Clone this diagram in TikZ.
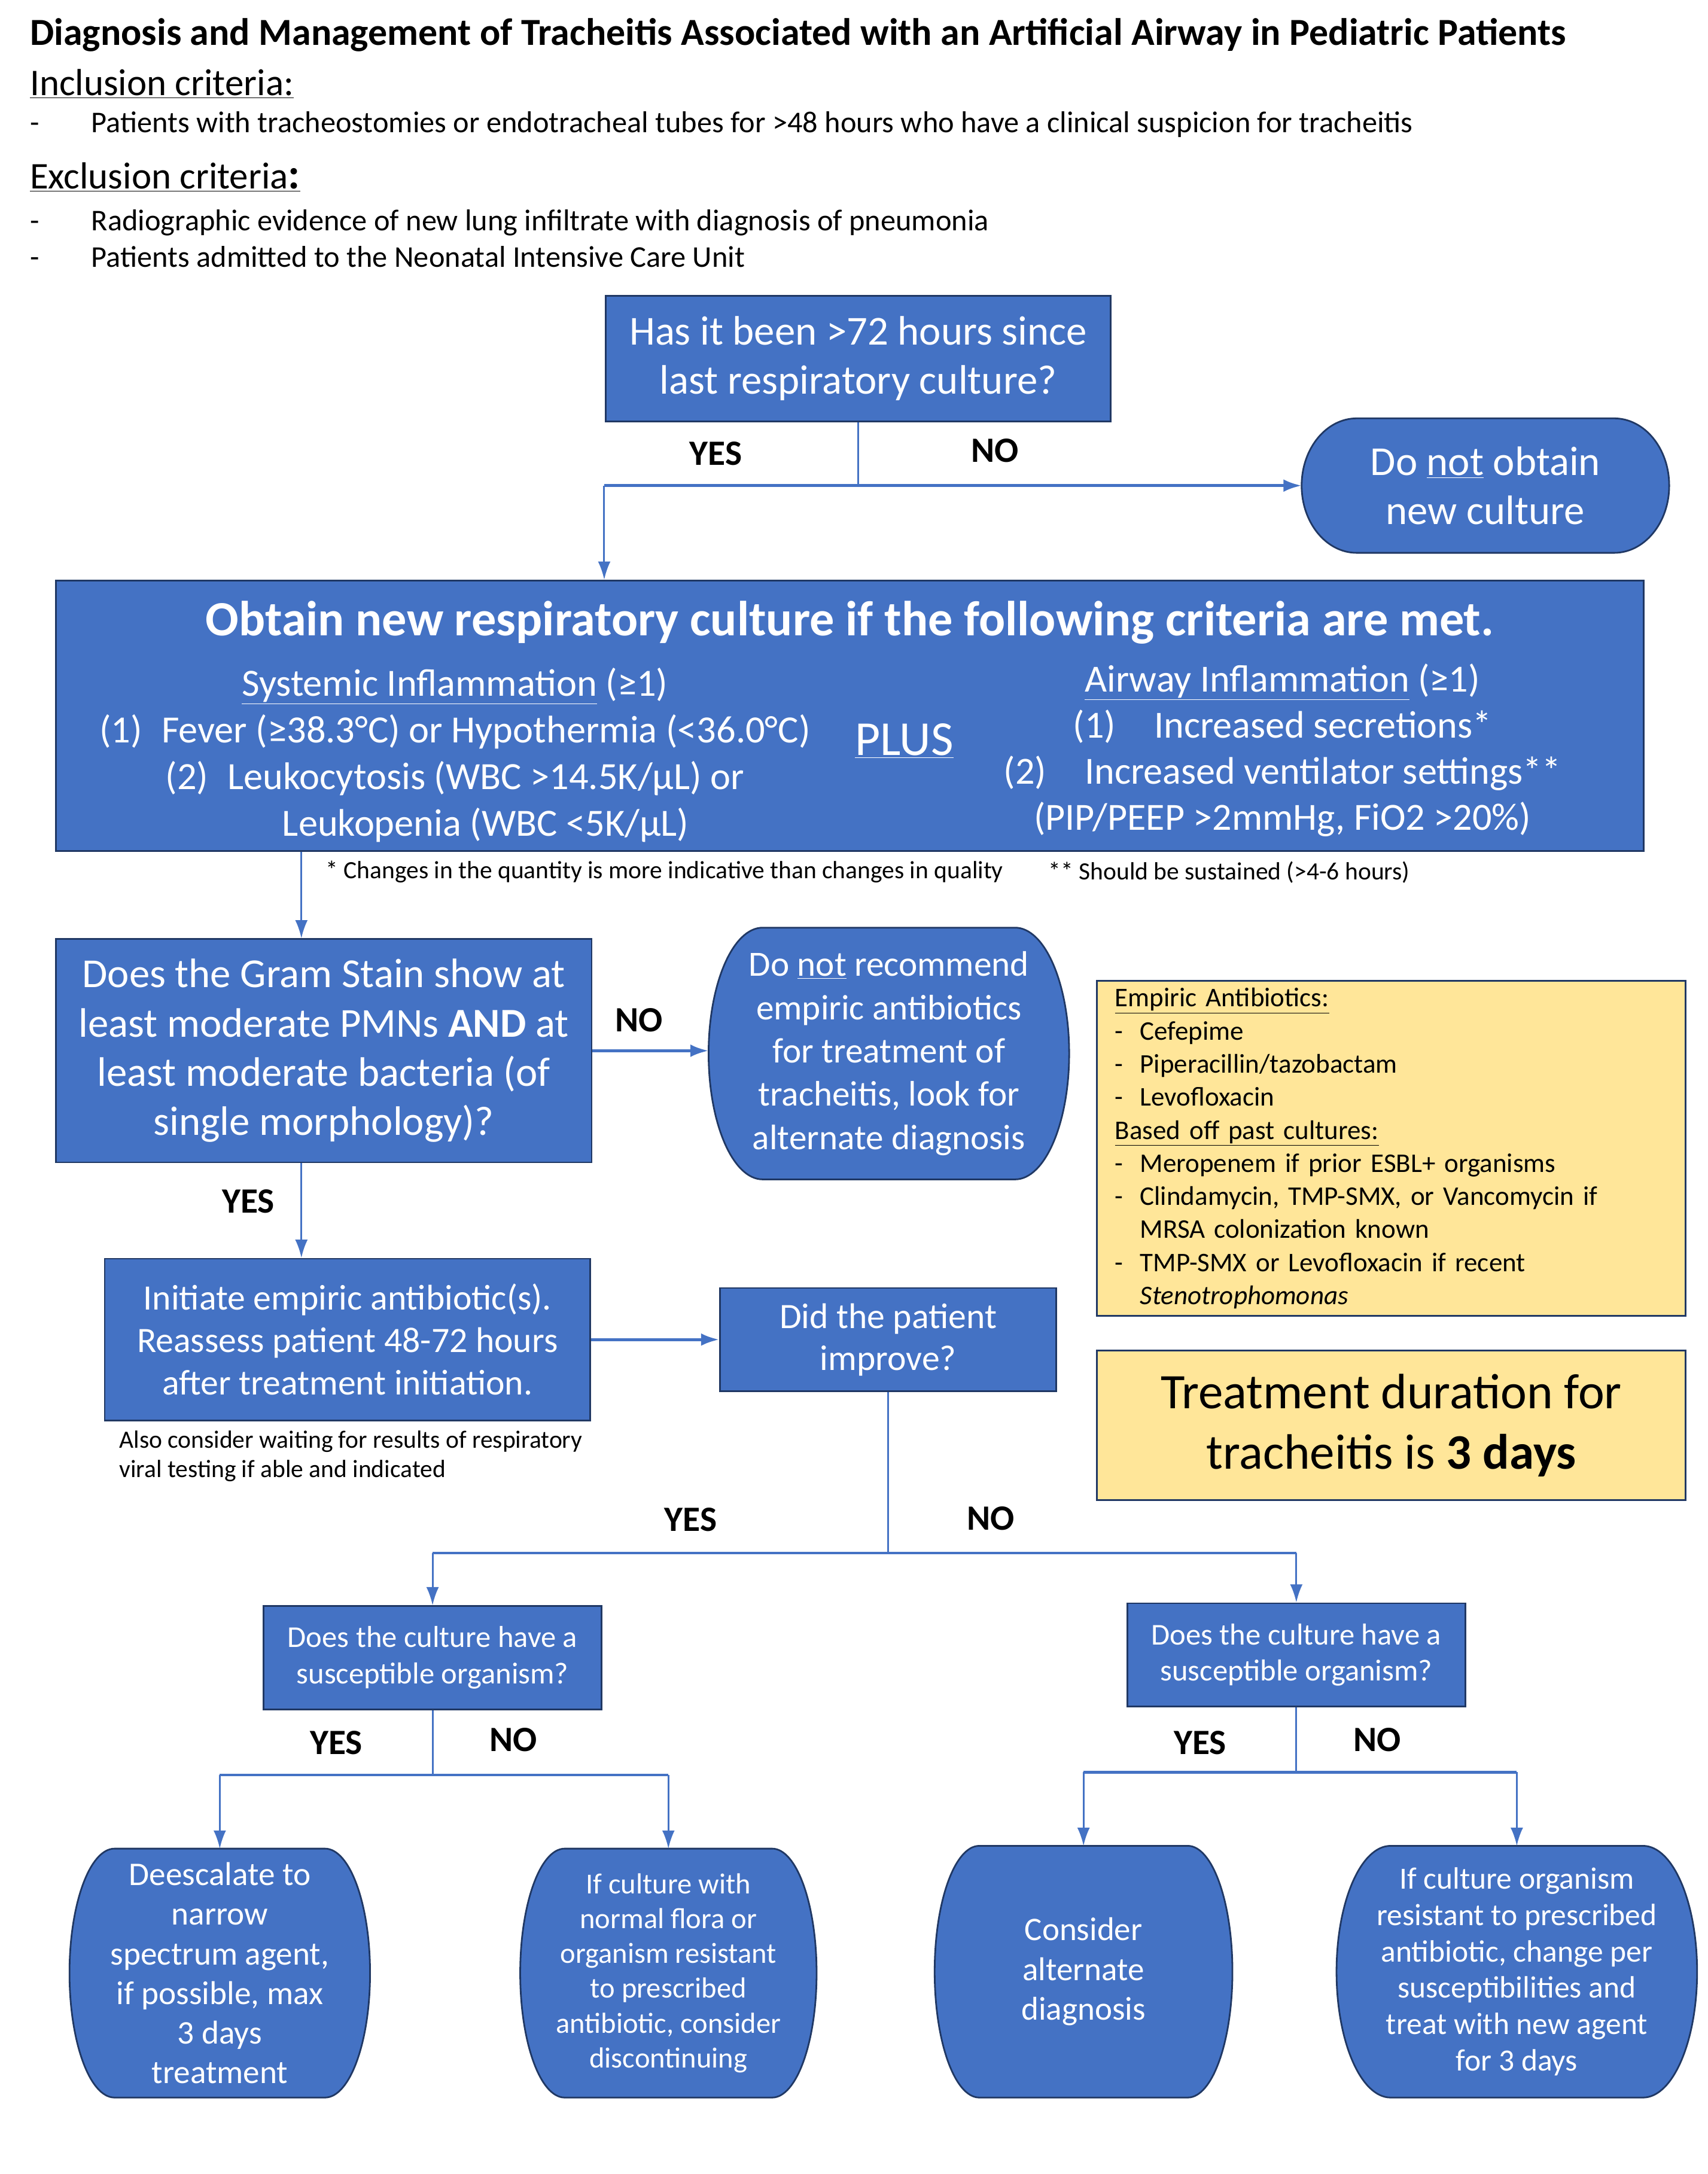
\documentclass[tikz,border=0pt]{standalone}
\usepackage{fontspec}
\setmainfont{Carlito}
\usepackage{xcolor}
\usepackage{tikz}
\usetikzlibrary{arrows.meta,positioning,calc,backgrounds}

\definecolor{office}{HTML}{4472C4}
\definecolor{navy}{HTML}{203864}
\definecolor{gold}{HTML}{FFE699}
\newcommand{\fsz}[2]{\fontsize{#1}{#2}\selectfont}
\newcommand{\dashitem}{\makebox[18pt][l]{-}}

\begin{document}
\begin{tikzpicture}[x=1pt,y=-1pt,>={Latex[length=13pt,width=9pt]}]
        \tikzset{block/.style={draw=navy, line width=1.2pt, fill=office, text=white, align=center, inner sep=0pt},
        term/.style={text=white, align=center, inner sep=0pt},
        termshape/.style={draw=navy, line width=1.2pt, fill=office},
        yblock/.style={draw=navy, line width=1.2pt, fill=gold, text=black, inner sep=0pt},
        lab/.style={font=\bfseries\fsz{25.5}{30}},
        link/.style={draw=office, line width=1.3pt},
        hlink/.style={draw=office, line width=2pt},
        }
        \useasboundingbox (0,0) rectangle (1224,1558);

%% header
        \node [anchor=west, font=\bfseries\fsz{27.4}{32}] (Title) at (18,25) {Diagnosis and Management of Tracheitis Associated with an Artificial Airway in Pediatric Patients};
        \node [anchor=west, font=\fsz{27}{32}] (Incl) at (18,60) {\underline{Inclusion criteria:}};
        \node [anchor=west, font=\fsz{21.6}{26}] (InclList) at (18,89) {\makebox[44pt][l]{-}Patients with tracheostomies or endotracheal tubes for >48 hours who have a clinical suspicion for tracheitis};
        \node [anchor=west, font=\fsz{27}{32}] (Excl) at (18,127) {\underline{Exclusion criteria{\bfseries\fsz{31}{32}:}}};
        \node [anchor=west, align=left, font=\fsz{21.6}{26}] (ExclList) at (18,171) {\makebox[44pt][l]{-}Radiographic evidence of new lung infiltrate with diagnosis of pneumonia\\
                \makebox[44pt][l]{-}Patients admitted to the Neonatal Intensive Care Unit};

%% boxes
        \node [block, minimum width=362pt, minimum height=90pt, font=\fsz{29.5}{35}] (Hours) at (615,257) {Has it been >72 hours since\\last respiratory culture?};
        \node [term, minimum width=263pt, minimum height=96pt, font=\fsz{29.5}{35}] (NoCulture) at (1064.5,348) {Do \underline{not} obtain\\new culture};
        \node [block, minimum width=1138pt, minimum height=194pt] (Criteria) at (609,513) {};
        \node [text=white, font=\bfseries\fsz{35.3}{40}] (CritHead) at (609,446) {Obtain new respiratory culture if the following criteria are met.};
        \node [text=white, align=center, font=\fsz{27.6}{33.5}] (Systemic) at (326,541) {\underline{Systemic Inflammation} (≥1)\\
                (1)\enspace Fever (≥38.3°C) or Hypothermia (<36.0°C)\\
                (2)\enspace Leukocytosis (WBC >14.5K/µL) or\\
                \hspace*{44pt}Leukopenia (WBC <5K/µL)};
        \node [text=white, font=\fsz{35}{38}] (Plus) at (648,531) {\underline{PLUS}};
        \node [text=white, align=center, font=\fsz{27.5}{33}] (Airway) at (919,537.5) {\underline{Airway Inflammation} (≥1)\\
                (1)\quad Increased secretions*\\
                (2)\quad Increased ventilator settings**\\
                (PIP/PEEP >2mmHg, FiO2 >20\%)};
        \node [anchor=west, font=\fsz{17.8}{21}] (NoteA) at (230,625) {* Changes in the quantity is more indicative than changes in quality};
        \node [anchor=west, font=\fsz{17.8}{21}] (NoteB) at (748,625) {** Should be sustained (>4-6 hours)};

        \node [block, minimum width=384pt, minimum height=160pt, font=\fsz{29.5}{35.3}] (Gram) at (232,753) {Does the Gram Stain show at\\least moderate PMNs \textbf{AND} at\\least moderate bacteria (of\\single morphology)?};
        \node [term, minimum width=258pt, minimum height=180pt, font=\fsz{25.4}{31}] (NoAbx) at (637,755) {Do \underline{not} recommend\\empiric antibiotics\\for treatment of\\tracheitis, look for\\alternate diagnosis};
        \node [yblock, minimum width=422pt, minimum height=240pt, inner xsep=13pt, text width=396pt, align=left, font=\fsz{19.3}{23.7}] (EmpAbx) at (997,823) {\underline{Empiric Antibiotics:}\\
                \dashitem Cefepime\\
                \dashitem Piperacillin/tazobactam\\
                \dashitem Levofloxacin\\
                \underline{Based off past cultures:}\\
                \dashitem Meropenem if prior ESBL+ organisms\\
                \dashitem Clindamycin, TMP-SMX, or Vancomycin if\\
                \hspace*{18pt}MRSA colonization known\\
                \dashitem TMP-SMX or Levofloxacin if recent\\
                \hspace*{18pt}\textit{Stenotrophomonas}};
        \node [yblock, minimum width=422pt, minimum height=107pt, align=center, font=\fsz{35.6}{43}] (Duration) at (997,1021.5) {Treatment duration for\\tracheitis is \textbf{3 days}};

        \node [block, minimum width=348pt, minimum height=116pt, font=\fsz{25.6}{30.5}] (Initiate) at (249,960) {Initiate empiric antibiotic(s).\\Reassess patient 48-72 hours\\after treatment initiation.};
        \node [anchor=west, align=left, font=\fsz{17.8}{21}] (ViralNote) at (82,1043.5) {Also consider waiting for results of respiratory\\viral testing if able and indicated};
        \node [block, minimum width=241pt, minimum height=74pt, font=\fsz{25.6}{30}] (Improve) at (636.5,960) {Did the patient\\improve?};

        \node [block, minimum width=242pt, minimum height=74pt, font=\fsz{21.7}{26}] (CultYes) at (310,1188) {Does the culture have a\\susceptible organism?};
        \node [block, minimum width=242pt, minimum height=74pt, font=\fsz{21.7}{26}] (CultNo) at (929,1186) {Does the culture have a\\susceptible organism?};

        \node [term, minimum width=215pt, minimum height=178pt, font=\fsz{23.7}{28.4}] (Deesc) at (157.5,1414) {Deescalate to\\narrow\\spectrum agent,\\if possible, max\\3 days\\treatment};
        \node [term, minimum width=212pt, minimum height=178pt, font=\fsz{20.8}{25}] (Discont) at (479,1414) {If culture with\\normal flora or\\organism resistant\\to prescribed\\antibiotic, consider\\discontinuing};
        \node [term, minimum width=213pt, minimum height=180pt, font=\fsz{23.6}{28.5}] (AltDx) at (776.5,1413) {Consider\\alternate\\diagnosis};
        \node [term, minimum width=258pt, minimum height=180pt, font=\fsz{22.1}{26}] (Change) at (1087,1413) {If culture organism\\resistant to prescribed\\antibiotic, change per\\susceptibilities and\\treat with new agent\\for 3 days};

%% rounded end boxes
        \begin{scope}[on background layer]
        \foreach \nm in {NoCulture,NoAbx,Deesc,Discont,AltDx,Change}
            \path [termshape] let \p1=(\nm.south west), \p2=(\nm.north east),
                \n1={0.15*(\x2-\x1)}, \n2={0.5*(\y2-\y1)} in
                (\x1+\n1,\y2) -- (\x2-\n1,\y2)
                arc [start angle=90, end angle=-90, x radius=\n1, y radius=\n2]
                -- (\x1+\n1,\y1)
                arc [start angle=270, end angle=90, x radius=\n1, y radius=\n2] -- cycle;
        \end{scope}

%% branch points
        \node [coordinate] (split1) at (615,348) {};
        \node [coordinate] (split1l) at (433,348) {};
        \node [coordinate] (split2) at (636.5,1113) {};
        \node [coordinate] (split2l) at (310,1113) {};
        \node [coordinate] (split2r) at (929,1113) {};
        \node [coordinate] (split3) at (310,1272) {};
        \node [coordinate] (split3l) at (157.5,1272) {};
        \node [coordinate] (split3r) at (479,1272) {};
        \node [coordinate] (split4) at (929,1270) {};
        \node [coordinate] (split4l) at (776.5,1270) {};
        \node [coordinate] (split4r) at (1087,1270) {};

%% paths
        \draw [link] (Hours.south) -- (split1);
        \draw [hlink,->] (split1l) -- (NoCulture.west);
        \draw [link,->] (split1l) -- (split1l |- Criteria.north);
        \draw [link,->] ([xshift=-16pt]Criteria.south -| Gram.north) -- ([xshift=-16pt]Gram.north);
        \draw [hlink,->] (Gram.east) -- (Gram.east -| NoAbx.west);
        \draw [link,->] ([xshift=-16pt]Gram.south) -- ([xshift=-16pt]Gram.south |- Initiate.north);
        \draw [hlink,->] (Initiate.east) -- (Initiate.east -| Improve.west);
        \draw [link] (Improve.south) -- (split2);
        \draw [hlink] (split2l) -- (split2r);
        \draw [link,->] (split2l) -- (CultYes.north);
        \draw [link,->] (split2r) -- (CultNo.north);
        \draw [link] (CultYes.south) -- (split3);
        \draw [hlink] (split3l) -- (split3r);
        \draw [link,->] (split3l) -- (Deesc.north);
        \draw [link,->] (split3r) -- (Discont.north);
        \draw [link] (CultNo.south) -- (split4);
        \draw [hlink] (split4l) -- (split4r);
        \draw [link,->] (split4l) -- (AltDx.north);
        \draw [link,->] (split4r) -- (Change.north);

%% answers
        \node [lab] (y1) at (513,325) {YES};
        \node [lab] (n1) at (713,323) {NO};
        \node [lab] (n2) at (458,731) {NO};
        \node [lab] (y2) at (178,861) {YES};
        \node [lab] (y3) at (495,1089) {YES};
        \node [lab] (n3) at (710,1088) {NO};
        \node [lab] (y4) at (241,1249) {YES};
        \node [lab] (n4) at (368,1247) {NO};
        \node [lab] (y5) at (860,1249) {YES};
        \node [lab] (n5) at (987,1247) {NO};
    \end{tikzpicture}
\end{document}
